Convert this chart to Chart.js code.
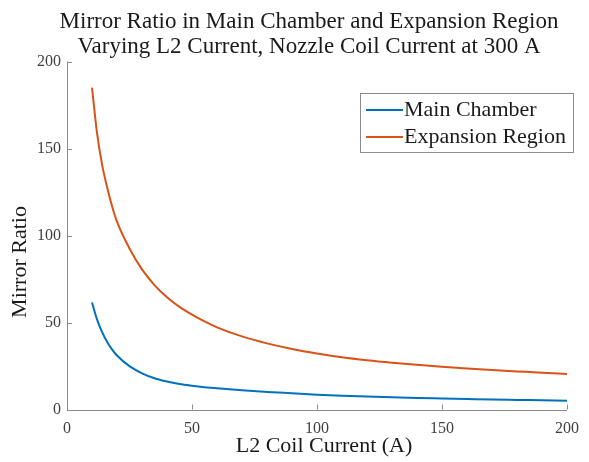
<!DOCTYPE html>
<html>
<head>
<meta charset="utf-8">
<script src="https://cdn.jsdelivr.net/npm/chart.js@4.4.1/dist/chart.umd.min.js"></script>
<style>
html,body{margin:0;padding:0;background:#fff;}
#wrap{width:589px;height:462px;position:relative;}
</style>
</head>
<body>
<div id="wrap"><canvas id="c" width="589" height="462"></canvas></div>
<script>
const titleLines = ["Mirror Ratio in Main Chamber and Expansion Region", "Varying L2 Current, Nozzle Coil Current at 300 A"];
const xTitle = "L2 Coil Current (A)";
const yTitle = "Mirror Ratio";
const seriesNames = ["Main Chamber", "Expansion Region"];
const l2Current = [10,12,14,16,18,20,25,30,35,40,45,50,55,60,70,80,90,100,110,120,130,140,150,160,170,180,190,200];
const mainChamber = [61.5,51.8,44.6,39.0,34.6,31.0,24.9,20.8,18.0,16.1,14.7,13.7,12.85,12.15,11.0,10.1,9.3,8.5,7.9,7.4,7.0,6.6,6.3,6.0,5.7,5.5,5.3,5.1];
const expansionRegion = [185,159,141,128,117,108,92.5,80.5,71.5,64.5,59,54.5,50.6,47.2,42,38,34.8,32.2,30,28.3,26.9,25.7,24.6,23.6,22.7,21.9,21.1,20.4];
const xTicks = [0,50,100,150,200];
const yTicks = [0,50,100,150,200];
const colors = ["#0072BD", "#D95319"];

const FONT = "'Liberation Serif', 'Times New Roman', serif";

const decor = {
  id: 'decor',
  afterDraw(chart) {
    const ctx = chart.ctx;
    const a = chart.chartArea;
    const xs = chart.scales.x, ys = chart.scales.y;
    ctx.save();
    ctx.strokeStyle = '#8c8c8c';
    ctx.lineWidth = 1;
    ctx.beginPath();
    ctx.moveTo(Math.round(a.left)+0.5, a.top);
    ctx.lineTo(Math.round(a.left)+0.5, Math.round(a.bottom)+0.5);
    ctx.lineTo(a.right, Math.round(a.bottom)+0.5);
    ctx.stroke();
    ctx.beginPath();
    xTicks.forEach(v => {
      const px = Math.round(xs.getPixelForValue(v))+0.5;
      ctx.moveTo(px, a.bottom);
      ctx.lineTo(px, a.bottom-5);
    });
    yTicks.forEach(v => {
      const py = Math.round(ys.getPixelForValue(v))+0.5;
      ctx.moveTo(a.left, py);
      ctx.lineTo(a.left+5, py);
    });
    ctx.stroke();
    ctx.fillStyle = '#1a1a1a';
    ctx.font = '23px ' + FONT;
    ctx.textAlign = 'center';
    ctx.textBaseline = 'middle';
    const cx = (a.left + a.right) / 2 - 8;
    ctx.fillText(titleLines[0], cx, 22);
    ctx.fillText(titleLines[1], cx, 47);
    ctx.font = '22px ' + FONT;
    ctx.fillText(xTitle, 324, 446);
    ctx.save();
    ctx.translate(20, 262);
    ctx.rotate(-Math.PI/2);
    ctx.fillText(yTitle, 0, 0);
    ctx.restore();
    const lx = 360, ly = 93, lw = 213, lh = 59;
    ctx.fillStyle = '#fff';
    ctx.fillRect(lx, ly, lw, lh);
    ctx.strokeStyle = '#8c8c8c';
    ctx.lineWidth = 1;
    ctx.strokeRect(lx+0.5, ly+0.5, lw, lh);
    ctx.textAlign = 'left';
    ctx.font = '22px ' + FONT;
    chart.data.datasets.forEach((ds, i) => {
      const yy = ly + 17 + i*27;
      ctx.strokeStyle = ds.borderColor;
      ctx.lineWidth = 2;
      ctx.beginPath();
      ctx.moveTo(lx+6, yy);
      ctx.lineTo(lx+43, yy);
      ctx.stroke();
      ctx.fillStyle = '#1a1a1a';
      ctx.fillText(ds.label, lx+44, yy);
    });
    ctx.restore();
  }
};

new Chart(document.getElementById('c'), {
  type: 'line',
  data: {
    datasets: [
      { label: seriesNames[0], data: l2Current.map((x,i)=>({x, y: mainChamber[i]})), borderColor: colors[0], borderWidth: 2, pointRadius: 0, cubicInterpolationMode: 'monotone', fill: false },
      { label: seriesNames[1], data: l2Current.map((x,i)=>({x, y: expansionRegion[i]})), borderColor: colors[1], borderWidth: 2, pointRadius: 0, cubicInterpolationMode: 'monotone', fill: false }
    ]
  },
  options: {
    responsive: false,
    animation: false,
    layout: { padding: { top: 61.5, right: 14, left: 0, bottom: 0 } },
    plugins: { legend: { display: false }, title: { display: false }, tooltip: { enabled: false } },
    scales: {
      x: {
        type: 'linear', min: 0, max: 200,
        afterBuildTicks: s => { s.ticks = xTicks.map(v => ({value: v})); },
        afterFit: s => { s.height = 52.5; },
        grid: { display: false, drawTicks: false, tickLength: 0 }, border: { display: false },
        ticks: { color: '#404040', font: { family: FONT, size: 16 }, padding: 10, maxRotation: 0 }
      },
      y: {
        type: 'linear', min: 0, max: 200,
        afterBuildTicks: s => { s.ticks = yTicks.map(v => ({value: v})); },
        afterFit: s => { s.width = 67; },
        grid: { display: false, drawTicks: false, tickLength: 0 }, border: { display: false },
        ticks: { color: '#404040', font: { family: FONT, size: 16 }, padding: 6 }
      }
    }
  },
  plugins: [decor]
});
</script>
</body>
</html>
